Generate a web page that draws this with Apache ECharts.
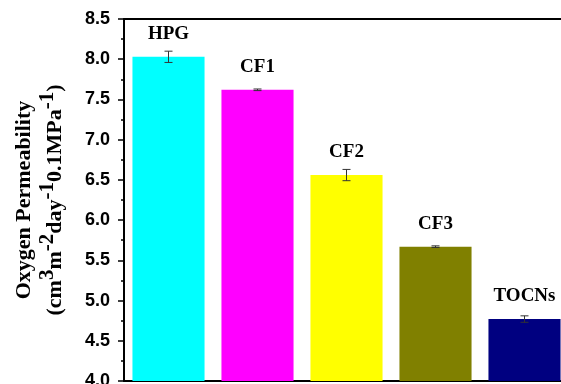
<!DOCTYPE html>
<html><head><meta charset="utf-8">
<script src="https://cdn.jsdelivr.net/npm/echarts@6/dist/echarts.min.js"></script>
<style>html,body{margin:0;padding:0;background:#fff}#c{width:561px;height:384px}</style>
</head><body><div id="c"></div>
<script>
const categories = ['HPG', 'CF1', 'CF2', 'CF3', 'TOCNs'];
const values = [8.03, 7.62, 6.56, 5.67, 4.77];
const errors = [0.07, 0.01, 0.07, 0.01, 0.04];
const colors = ['#00FFFF', '#FF00FF', '#FFFF00', '#808000', '#000080'];
const yMin = 4.0, yMax = 8.5, yStep = 0.5;

const serif = 'Liberation Serif';
const chart = echarts.init(document.getElementById('c'), null, {renderer: 'canvas'});
const supStyle = {fontFamily: serif, fontWeight: 'bold', fontSize: 21, color: '#000', lineHeight: 22, padding: [0, 0, 16, 0]};
const normStyle = {fontFamily: serif, fontWeight: 'bold', fontSize: 22, color: '#000', lineHeight: 22};
const line1Style = {fontFamily: serif, fontWeight: 'bold', fontSize: 22, color: '#000', lineHeight: 40};
chart.setOption({
  animation: false,
  grid: {left: 124, top: 19, width: 445, height: 362, containLabel: false, outerBoundsMode: 'none'},
  xAxis: [{
    type: 'category', data: categories, position: 'bottom',
    axisLine: {lineStyle: {color: '#000', width: 2}},
    axisTick: {show: false}, axisLabel: {show: false}
  }, {
    type: 'category', data: categories, position: 'top',
    axisLine: {show: true, lineStyle: {color: '#000', width: 2}},
    axisTick: {show: false}, axisLabel: {show: false}
  }],
  yAxis: {
    type: 'value', min: yMin, max: yMax, interval: yStep,
    axisLine: {show: true, lineStyle: {color: '#000', width: 2}},
    axisTick: {show: true, inside: false, length: 6, lineStyle: {color: '#000', width: 1.5}},
    minorTick: {show: true, splitNumber: 2, length: 3, lineStyle: {color: '#000', width: 1.5}},
    splitLine: {show: false},
    axisLabel: {margin: 14, color: '#000', fontFamily: 'Liberation Sans', fontWeight: 'bold', fontSize: 18,
      formatter: v => v.toFixed(1)},
    name: '{a|Oxygen Permeability}\n{n|(cm}{s|3}{n|m}{s|-2}{n|day}{s|-1}{n|0.1MPa}{s|-1}{n|)}',
    nameLocation: 'middle', nameRotate: 90, nameGap: 56,
    nameTextStyle: {rich: {a: line1Style, n: normStyle, s: supStyle}}
  },
  series: [{
    type: 'bar', data: values.map((v, i) => ({value: v, itemStyle: {color: colors[i]}})),
    barCategoryGap: '19%',
    label: {show: true, position: 'top', distance: 13, color: '#000', fontFamily: serif, fontWeight: 'bold', fontSize: 19,
      formatter: p => categories[p.dataIndex]}
  }, {
    type: 'custom', z: 5,
    data: values.map((v, i) => [i, v, errors[i]]),
    renderItem: (params, api) => {
      const x = api.value(0), v = api.value(1), e = api.value(2);
      const hi = api.coord([x, v + e]), lo = api.coord([x, v - e]);
      const w = 4;
      const st = {stroke: '#333', lineWidth: 1};
      return {type: 'group', children: [
        {type: 'line', shape: {x1: hi[0], y1: hi[1], x2: lo[0], y2: lo[1]}, style: st},
        {type: 'line', shape: {x1: hi[0] - w, y1: hi[1], x2: hi[0] + w, y2: hi[1]}, style: st},
        {type: 'line', shape: {x1: lo[0] - w, y1: lo[1], x2: lo[0] + w, y2: lo[1]}, style: st}
      ]};
    }
  }]
});
</script></body></html>
